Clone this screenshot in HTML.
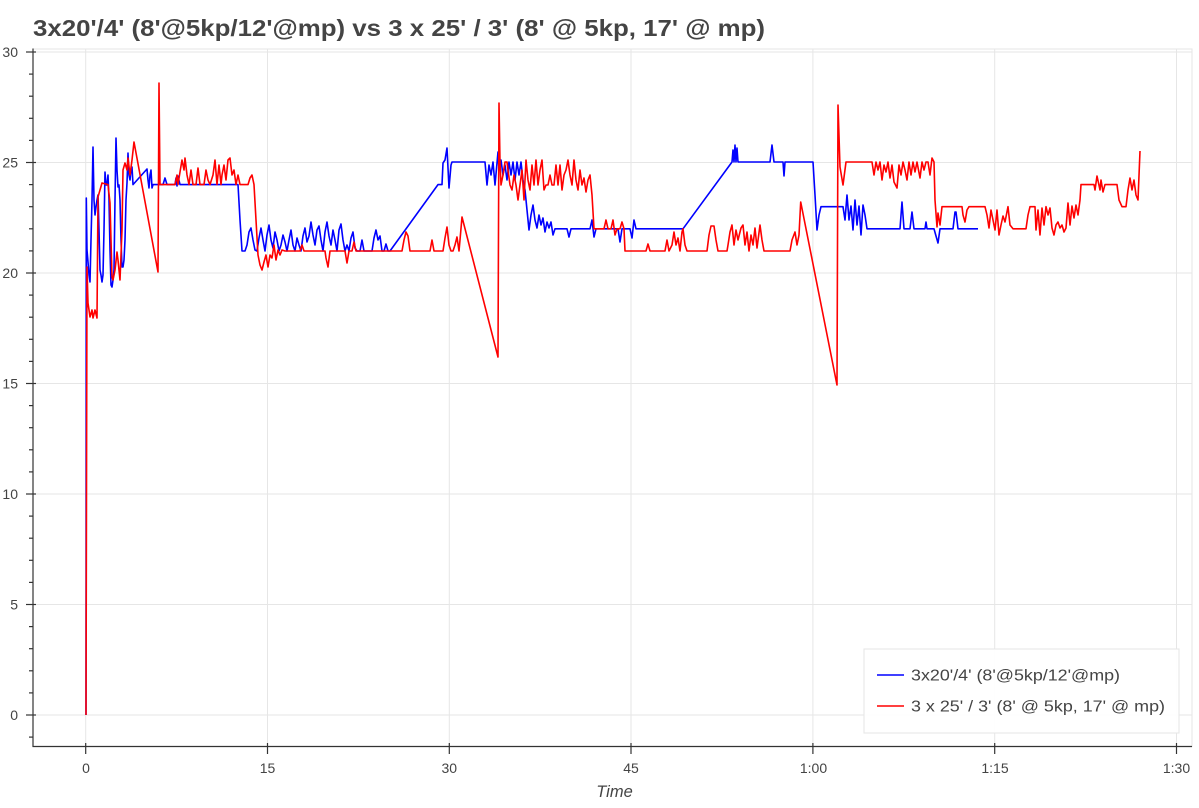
<!DOCTYPE html>
<html>
<head>
<meta charset="utf-8">
<style>
html,body{margin:0;padding:0;background:#fff;}
svg{display:block;}
text{font-family:"Liberation Sans",Arial,sans-serif;fill:#444;}
</style>
</head>
<body>
<svg width="1199" height="808" viewBox="0 0 1199 808" xmlns="http://www.w3.org/2000/svg">
<rect x="0" y="0" width="1199" height="808" fill="#fff"/>
<!-- title -->
<text x="33" y="36" font-size="23" font-weight="bold" textLength="732" lengthAdjust="spacingAndGlyphs">3x20'/4' (8'@5kp/12'@mp) vs 3 x 25' / 3' (8' @ 5kp, 17' @ mp)</text>

<!-- outline -->
<rect x="33" y="49" width="1159" height="697.5" fill="none" stroke="#e5e5e5" stroke-width="1"/>

<!-- grid -->
<g stroke="#e6e6e6" stroke-width="1">
<line x1="33" x2="1192" y1="715" y2="715"/>
<line x1="33" x2="1192" y1="604.5" y2="604.5"/>
<line x1="33" x2="1192" y1="494" y2="494"/>
<line x1="33" x2="1192" y1="383.5" y2="383.5"/>
<line x1="33" x2="1192" y1="273" y2="273"/>
<line x1="33" x2="1192" y1="162.5" y2="162.5"/>
<line x1="33" x2="1192" y1="52" y2="52"/>
<line x1="85.7" x2="85.7" y1="49" y2="746"/>
<line x1="267.5" x2="267.5" y1="49" y2="746"/>
<line x1="449.3" x2="449.3" y1="49" y2="746"/>
<line x1="631" x2="631" y1="49" y2="746"/>
<line x1="812.9" x2="812.9" y1="49" y2="746"/>
<line x1="994.7" x2="994.7" y1="49" y2="746"/>
<line x1="1176.5" x2="1176.5" y1="49" y2="746"/>
</g>

<!-- blue series -->
<polyline fill="none" stroke="#0000ff" stroke-width="1.6" stroke-linejoin="round" points="
86,715 86.3,198 87,250 88,262 89,275 90,282 91,240 92,200 93,147 94,200 95,215 96,207 97,200 98,195 99,230 100,270 101,275 102,282 103,275 104,230 105,172 106,185 107,185 108,175 109,200 110,250 111,285 112,287 113,280 114,270 115,200 116,138 117,170 118,187 119,185 120,200 121,240 122,267 123,267 124,260 125,240 126,200 127,183 128,153 129,175 130,180 131,170 132,167 133,184.6
147,169 148,180 149,188 150,175 151,170 152,188 153,184.6 163,184.6 165,178 167,184.6 175,184.6 176,178 177,186 178,176 180,184.6 238,184.6
240,220 242,251 245,251 247,245 249,232 251,228 253,240 255,250 257,251 259,238 261,228 263,240 265,251 267,235 269,225 271,240 273,248 275,232 277,240 279,251 281,245 283,235 285,242 287,251 289,240 291,230 293,245 295,251 297,238 299,245 301,251 303,236 305,228 307,242 309,236 311,222 313,235 315,245 317,230 319,226 321,240 323,251 325,232 327,222 329,236 331,245 333,230 335,240 337,251 339,230 341,224 343,240 345,251 347,245 349,251 351,238 353,232 355,248 357,251 360,251 362,240 364,251 372,251 374,238 376,230 378,240 380,236 382,251 384,251 386,244 388,251 390,251
438,184.6 442,184.6 443,163 445,160 447,148 449,188 451,165 452,162 485,162 487,185 489,165 491,175 493,162 495,185 498,152 499,170 501,160 503,175 505,165 507,180 509,162 511,175 513,162 515,180 517,162 519,175 521,162 523,180 525,190 527,210 529,230 531,215 533,205 535,220 537,228 539,215 541,225 543,218 545,232 547,222 549,228 551,222 553,235 555,228.8 567,228.8 569,237 571,228.8 590,228.8 592,220 594,237 596,228.8 618,228.8 620,242 622,228.8 630,228.8 632,238 634,220 636,228.8 683,228.8
732,162 733,150 734,162 735,145 736,162 737,148 738,162 770,162 772,145 774,162 783,162 784,176 785,162 813,162 815,195 817,230 819,215 821,206.7 843,206.7 845,220 847,195 849,220 851,206 853,230 855,200 857,225 859,206 861,235 863,205 865,215 867,228.8 900,228.8 902,202 904,228.8 910,228.8 912,212 914,228.8 925,228.8 926,222 927,228.8 934,228.8 936,236 938,243 940,228.8 953,228.8 955,212 956,212 958,228.8 978,228.8"/>

<!-- red series -->
<polyline fill="none" stroke="#ff0000" stroke-width="1.6" stroke-linejoin="round" points="
86,715 87,267 88,303 90,317 92,310 93,318 95,310 97,318 98,197 100,190 102,183 108,184.6 110,203 112,277 113,280 115,270 117,252 118,260 120,280 122,230 123,170 125,163 127,170 128,158 130,175 132,160 134,142 158,272 159,83 160,184.6
175,184.6 177,175 178,184.6 180,172 182,160 184,170 185,158 187,175 189,184.6 191,170 193,184.6 196,184.6 198,168 200,184.6 204,184.6 206,170 208,180 210,184.6 213,175 215,160 217,184.6 219,165 221,184.6 222,175 224,165 226,180 228,160 230,158 232,175 234,170 236,184.6 238,175 240,184.6 248,184.6 250,178 252,175 254,184.6
256,220 258,255 260,265 262,270 264,262 266,255 268,267 270,255 272,258 274,245 276,260 278,250 280,255 282,250 285,251 300,251 302,245 304,251 325,251 326,258 328,267 330,251 345,251 347,263 349,251 352,251 354,242 356,251 402,251 404,240 406,232 408,236 410,251 430,251 432,240 434,251 443,251 445,238 447,227 449,245 451,251 453,251 455,245 457,237 459,251 460,240 462,217
498,357 499,103 500,162 501,185 503,175 505,162 507,162 508,170 510,185 512,190 514,175 516,185 518,200 520,185 522,170 524,200 526,160 528,180 530,190 532,165 534,185 536,160 538,185 540,170 542,160 544,190 546,185 548,185 550,175 552,185 554,185 556,165 558,185 560,165 562,190 564,175 566,170 568,160 570,175 572,185 574,160 576,180 578,190 580,170 582,185 584,178 586,192 588,180 590,175 592,195 594,228.8 604,228.8 606,220 608,228.8 611,228.8 613,220 615,235 617,228.8 620,228.8 622,222 624,228.8 625,251 646,251 648,244 650,251 665,251 667,240 669,251 672,245 674,232 676,245 678,238 680,251 682,232 683,228.8 685,245 687,251 707,251 709,235 711,226 714,226 716,240 718,251 727,251 728,245 730,232 732,225 734,245 736,230 738,240 741,228 743,225 745,245 747,232 749,251 751,235 753,245 755,228 757,248 760,225 762,240 764,251 790,251 792,240 795,232 797,245 799,235 800.7,202
837,385 838,105 840,167 843,185 846,162 872,162 874,175 876,162 878,170 880,162 882,180 884,165 886,172 888,162 890,178 892,165 894,182 897,188 899,165 901,175 903,162 905,170 907,180 909,162 911,175 913,162 915,172 917,162 920,178 922,162 924,170 926,162 928,162 930,175 932,158 934,162 935,200 937,227 938,213 940,225 942,206.7 962,206.7 963,215 965,222 967,210 969,206.7 985,206.7 987,215 989,228 991,210 993,220 995,230 997,210 999,235 1001,225 1003,216 1005,222 1008,206.7 1010,225 1013,228.8 1026,228.8 1028,215 1030,206.7 1035,206.7 1036,230 1038,210 1040,235 1042,208 1044,225 1046,206.7 1048,215 1050,208 1052,228 1054,235 1056,225 1058,222 1060,228 1062,225 1064,232 1066,228 1068,203 1070,225 1072,206 1074,218 1076,205 1078,215 1080,200 1081,184.6 1094,184.6 1095,190 1097,176 1100,190 1101,180 1103,192 1105,184.6 1117,184.6 1119,200 1122,206.7 1126,206.7 1128,190 1130,178 1132,190 1134,180 1136,195 1138,200 1140,151"/>

<!-- axes -->
<g stroke="#333" stroke-width="1.2">
<line x1="33" x2="33" y1="48.5" y2="747"/>
<line x1="32.5" x2="1192" y1="746.5" y2="746.5"/>
<line x1="26" x2="36" y1="715" y2="715"/>
<line x1="26" x2="36" y1="604.5" y2="604.5"/>
<line x1="26" x2="36" y1="494" y2="494"/>
<line x1="26" x2="36" y1="383.5" y2="383.5"/>
<line x1="26" x2="36" y1="273" y2="273"/>
<line x1="26" x2="36" y1="162.5" y2="162.5"/>
<line x1="26" x2="36" y1="52" y2="52"/>
<line x1="29" x2="33" y1="737.1" y2="737.1"/>
<line x1="29" x2="33" y1="692.9" y2="692.9"/>
<line x1="29" x2="33" y1="670.8" y2="670.8"/>
<line x1="29" x2="33" y1="648.7" y2="648.7"/>
<line x1="29" x2="33" y1="626.6" y2="626.6"/>
<line x1="29" x2="33" y1="582.4" y2="582.4"/>
<line x1="29" x2="33" y1="560.3" y2="560.3"/>
<line x1="29" x2="33" y1="538.2" y2="538.2"/>
<line x1="29" x2="33" y1="516.1" y2="516.1"/>
<line x1="29" x2="33" y1="471.9" y2="471.9"/>
<line x1="29" x2="33" y1="449.8" y2="449.8"/>
<line x1="29" x2="33" y1="427.7" y2="427.7"/>
<line x1="29" x2="33" y1="405.6" y2="405.6"/>
<line x1="29" x2="33" y1="361.4" y2="361.4"/>
<line x1="29" x2="33" y1="339.3" y2="339.3"/>
<line x1="29" x2="33" y1="317.2" y2="317.2"/>
<line x1="29" x2="33" y1="295.1" y2="295.1"/>
<line x1="29" x2="33" y1="250.9" y2="250.9"/>
<line x1="29" x2="33" y1="228.8" y2="228.8"/>
<line x1="29" x2="33" y1="206.7" y2="206.7"/>
<line x1="29" x2="33" y1="184.6" y2="184.6"/>
<line x1="29" x2="33" y1="140.4" y2="140.4"/>
<line x1="29" x2="33" y1="118.3" y2="118.3"/>
<line x1="29" x2="33" y1="96.2" y2="96.2"/>
<line x1="29" x2="33" y1="74.1" y2="74.1"/>
<line x1="85.7" x2="85.7" y1="743" y2="754"/>
<line x1="267.5" x2="267.5" y1="743" y2="754"/>
<line x1="449.3" x2="449.3" y1="743" y2="754"/>
<line x1="631" x2="631" y1="743" y2="754"/>
<line x1="812.9" x2="812.9" y1="743" y2="754"/>
<line x1="994.7" x2="994.7" y1="743" y2="754"/>
<line x1="1176.5" x2="1176.5" y1="743" y2="754"/>
</g>

<!-- y labels -->
<g font-size="14" text-anchor="end">
<text x="18" y="720">0</text>
<text x="18" y="609.5">5</text>
<text x="18" y="499">10</text>
<text x="18" y="388.5">15</text>
<text x="18" y="278">20</text>
<text x="18" y="167.5">25</text>
<text x="18" y="57">30</text>
</g>
<!-- x labels -->
<g font-size="14" text-anchor="middle">
<text x="86" y="773">0</text>
<text x="267.5" y="773">15</text>
<text x="449.3" y="773">30</text>
<text x="631" y="773">45</text>
<text x="813.5" y="773">1:00</text>
<text x="995" y="773">1:15</text>
<text x="1176.5" y="773">1:30</text>
</g>
<text x="614.5" y="797" font-size="16.5" font-style="italic" text-anchor="middle">Time</text>

<!-- legend -->
<rect x="864" y="649" width="315" height="84" fill="#fff" fill-opacity="0.95" stroke="#e5e5e5" stroke-width="1"/>
<line x1="877" x2="904" y1="675" y2="675" stroke="#0000ff" stroke-width="1.6"/>
<line x1="877" x2="904" y1="706" y2="706" stroke="#ff0000" stroke-width="1.6"/>
<text x="911" y="680.5" font-size="15.5" textLength="209" lengthAdjust="spacingAndGlyphs">3x20'/4' (8'@5kp/12'@mp)</text>
<text x="911" y="711.5" font-size="15.5" textLength="254" lengthAdjust="spacingAndGlyphs">3 x 25' / 3' (8' @ 5kp, 17' @ mp)</text>
</svg>
</body>
</html>
